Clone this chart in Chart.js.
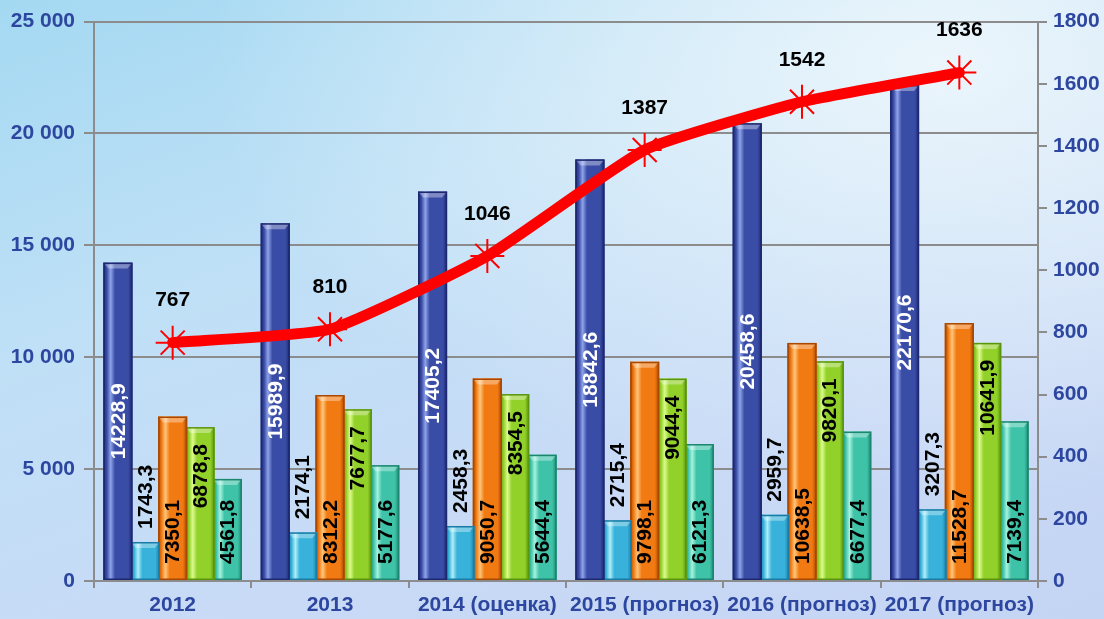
<!DOCTYPE html>
<html>
<head>
<meta charset="utf-8">
<script src="https://cdn.jsdelivr.net/npm/chart.js@4"></script>
<style>
  html, body { margin: 0; padding: 0; }
  body {
    width: 1104px; height: 619px; overflow: hidden;
    background:
      radial-gradient(ellipse at 85% 10%, rgba(240,248,252,0.9) 0%, rgba(240,248,252,0) 55%),
      linear-gradient(160deg, #a4d9f2 0%, #bfe0f6 35%, #c9daf6 70%, #c4d4f3 100%);
  }
  #wrap { position: relative; width: 1104px; height: 619px; }
</style>
</head>
<body>
<div id="wrap"><canvas id="chart"></canvas></div>
<script>
// ===================== DATA =====================
const categories = ["2012", "2013", "2014 (оценка)", "2015 (прогноз)", "2016 (прогноз)", "2017 (прогноз)"];
const seriesA = [14228.9, 15989.9, 17405.2, 18842.6, 20458.6, 22170.6];
const seriesB = [1743.3, 2174.1, 2458.3, 2715.4, 2959.7, 3207.3];
const seriesC = [7350.1, 8312.2, 9050.7, 9798.1, 10638.5, 11528.7];
const seriesD = [6878.8, 7677.7, 8354.5, 9044.4, 9820.1, 10641.9];
const seriesE = [4561.8, 5177.6, 5644.4, 6121.3, 6677.4, 7139.4];
const lineValues = [767, 810, 1046, 1387, 1542, 1636];
const leftTicks = [0, 5000, 10000, 15000, 20000, 25000];
const rightTicks = [0, 200, 400, 600, 800, 1000, 1200, 1400, 1600, 1800];

// ===================== STYLE =====================
const palettes = [
  { mid: "#3a4da6", dark: "#1d2870", light: "#8fa3ea" },
  { mid: "#38b2da", dark: "#1a7ca6", light: "#aeeefa" },
  { mid: "#f27a12", dark: "#a94800", light: "#ffc57a" },
  { mid: "#92d02a", dark: "#5a950e", light: "#dcfb8a" },
  { mid: "#3ec3a8", dark: "#1c8670", light: "#a6f2de" }
];
// label placement per bar series
const labelModes = ["center", "above", "base", "end", "base"];
const labelColors = ["#ffffff", "#000000", "#000000", "#000000", "#000000"];

const tickBlue = "#2d47a0";
const gridGrey = "#8c8c8c";
const FONT = "'Liberation Sans', Arial, sans-serif";

function fmtDec(v) {
  return v.toFixed(1).replace(".", ",");
}
function fmtThousands(v) {
  return String(v).replace(/\B(?=(\d{3})+(?!\d))/g, " ");
}

// ===================== PLUGINS =====================
const barLook = {
  id: "barLook",
  afterDatasetDraw(chart, args) {
    const meta = args.meta;
    if (meta.type !== "bar") return;
    const ctx = chart.ctx;
    const col = palettes[args.index];
    ctx.save();
    meta.data.forEach(el => {
      const p = el.getProps(["x", "y", "base", "width"], true);
      const l = p.x - p.width / 2, w = p.width, t = p.y, h = p.base - p.y;
      const g = ctx.createLinearGradient(l, 0, l + w, 0);
      g.addColorStop(0, col.dark);
      g.addColorStop(0.12, col.mid);
      g.addColorStop(0.25, col.light);
      g.addColorStop(0.4, col.mid);
      g.addColorStop(0.85, col.mid);
      g.addColorStop(1, col.dark);
      ctx.fillStyle = g;
      ctx.fillRect(l, t, w, h);
      // top bevel
      ctx.fillStyle = "rgba(255,255,255,0.35)";
      ctx.beginPath();
      ctx.moveTo(l, t);
      ctx.lineTo(l + w, t);
      ctx.lineTo(l + w - 5, t + 6);
      ctx.lineTo(l + 5, t + 6);
      ctx.closePath();
      ctx.fill();
      ctx.strokeStyle = col.dark;
      ctx.lineWidth = 1.5;
      ctx.strokeRect(l + 0.75, t + 0.75, w - 1.5, h - 1.5);
    });
    ctx.restore();
  }
};

const valueLabels = {
  id: "valueLabels",
  afterDatasetsDraw(chart) {
    const ctx = chart.ctx;
    ctx.save();
    ctx.font = "bold 21px " + FONT;
    chart.data.datasets.forEach((ds, di) => {
      const meta = chart.getDatasetMeta(di);
      if (meta.type === "bar") {
        const mode = labelModes[di];
        ctx.fillStyle = labelColors[di];
        meta.data.forEach((el, i) => {
          const p = el.getProps(["x", "y", "base"], true);
          const txt = fmtDec(ds.data[i]);
          ctx.save();
          ctx.translate(p.x + 1, 0);
          ctx.rotate(-Math.PI / 2);
          ctx.textBaseline = "middle";
          // after rotation: x axis points up (negative y in canvas)
          if (mode === "center") {
            ctx.textAlign = "center";
            ctx.fillText(txt, -(p.y + p.base) / 2, 0);
          } else if (mode === "above") {
            ctx.textAlign = "left";
            ctx.fillText(txt, -(p.y - 13), 0);
          } else if (mode === "base") {
            ctx.textAlign = "left";
            ctx.fillText(txt, -(p.base - 16), 0);
          } else {
            ctx.textAlign = "right";
            ctx.fillText(txt, -(p.y + 17), 0);
          }
          ctx.restore();
        });
      } else {
        ctx.fillStyle = "#000000";
        ctx.textAlign = "center";
        ctx.textBaseline = "middle";
        meta.data.forEach((el, i) => {
          ctx.fillText(String(ds.data[i]), el.x, el.y - 42);
        });
      }
    });
    ctx.restore();
  }
};

// ===================== CHART =====================
const barSeries = [seriesA, seriesB, seriesC, seriesD, seriesE];
const datasets = barSeries.map((vals, i) => ({
  type: "bar",
  data: vals,
  yAxisID: "y",
  backgroundColor: palettes[i].mid,
  borderWidth: 0,
  barPercentage: 1.06,
  categoryPercentage: 0.87,
  order: 1
}));
datasets.push({
  type: "line",
  data: lineValues,
  yAxisID: "y1",
  borderColor: "#ff0000",
  borderWidth: 11,
  borderCapStyle: "round",
  tension: 0.15,
  pointStyle: "star",
  pointRadius: 17,
  pointBorderColor: "#ff0000",
  pointBackgroundColor: "#ff0000",
  pointBorderWidth: 2,
  order: 0
});

const tickFont = { family: FONT, size: 21, weight: "bold" };

new Chart(document.getElementById("chart"), {
  data: { labels: categories, datasets: datasets },
  options: {
    responsive: true,
    maintainAspectRatio: false,
    animation: false,
    layout: { padding: { top: 20, left: 0, right: 0, bottom: 0 } },
    plugins: { legend: { display: false }, tooltip: { enabled: false } },
    scales: {
      x: {
        grid: { offset: true, drawOnChartArea: false, color: gridGrey, lineWidth: 2, tickLength: 7 },
        border: { color: gridGrey, width: 2 },
        ticks: { color: tickBlue, font: tickFont, padding: 5, maxRotation: 0, autoSkip: false },
        afterFit(scale) { scale.height = 38; }
      },
      y: {
        position: "left",
        min: 0, max: 25000,
        afterBuildTicks(scale) { scale.ticks = leftTicks.map(v => ({ value: v })); },
        grid: { color: gridGrey, lineWidth: 2, tickLength: 10 },
        border: { color: gridGrey, width: 2 },
        ticks: { color: tickBlue, font: tickFont, padding: 9, callback: v => fmtThousands(v) },
        afterFit(scale) { scale.width = 94; }
      },
      y1: {
        position: "right",
        min: 0, max: 1800,
        afterBuildTicks(scale) { scale.ticks = rightTicks.map(v => ({ value: v })); },
        grid: { drawOnChartArea: false, color: gridGrey, lineWidth: 2, tickLength: 9 },
        border: { color: gridGrey, width: 2 },
        ticks: { color: tickBlue, font: tickFont, padding: 6, callback: v => String(v) },
        afterFit(scale) { scale.width = 66; }
      }
    }
  },
  plugins: [barLook, valueLabels]
});
</script>
</body>
</html>
